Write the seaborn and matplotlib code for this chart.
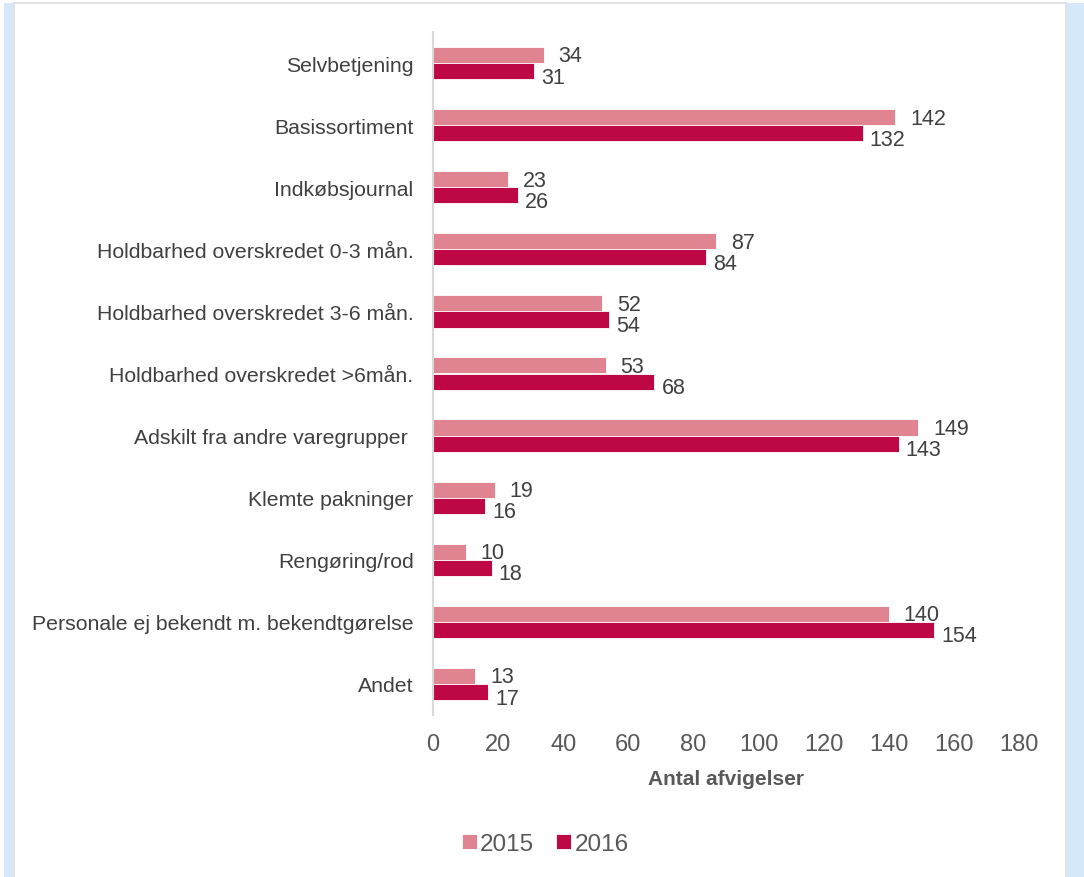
import matplotlib
matplotlib.use("Agg")
import matplotlib.pyplot as plt
import seaborn as sns
import pandas as pd
from matplotlib.patches import Rectangle
from matplotlib.transforms import offset_copy

categories = [
    "Selvbetjening",
    "Basissortiment",
    "Indkøbsjournal",
    "Holdbarhed overskredet 0-3 mån.",
    "Holdbarhed overskredet 3-6 mån.",
    "Holdbarhed overskredet >6mån.",
    "Adskilt fra andre varegrupper ",
    "Klemte pakninger",
    "Rengøring/rod",
    "Personale ej bekendt m. bekendtgørelse",
    "Andet",
]
values_2015 = [34, 142, 23, 87, 52, 53, 149, 19, 10, 140, 13]
values_2016 = [31, 132, 26, 84, 54, 68, 143, 16, 18, 154, 17]
years = ["2015", "2016"]
colors = ["#E08491", "#BE0846"]
x_ticks = [0, 20, 40, 60, 80, 100, 120, 140, 160, 180]

df = pd.DataFrame({
    "Kategori": categories * 2,
    "Antal": values_2015 + values_2016,
    "År": [years[0]] * len(categories) + [years[1]] * len(categories),
})

sns.set_theme(style="white")
plt.rcParams["font.family"] = ["Liberation Sans", "DejaVu Sans"]

fig = plt.figure(figsize=(10.84, 8.78), dpi=100)
ax = fig.add_axes([433 / 1084, 1 - 716 / 878, (1019 - 433) / 1084, (716 - 33) / 878])

sns.barplot(data=df, y="Kategori", x="Antal", hue="År", order=categories,
            hue_order=years, palette=colors, saturation=1, width=0.52, orient="h",
            ax=ax, legend=True, edgecolor="white", linewidth=0.6)

ax.set_xlim(0, 180)
ax.set_xticks(x_ticks)
ax.set_xticklabels([str(t) for t in x_ticks])
ax.tick_params(axis="x", length=0, pad=13, labelsize=17, labelcolor="#595959")
ax.tick_params(axis="y", length=0, pad=14, labelsize=15.3, labelcolor="#404040")
ax.set_ylabel("")
ax.set_xlabel("Antal afvigelser", fontsize=15, fontweight="bold", color="#595959", labelpad=10)
for s in ["top", "right", "bottom"]:
    ax.spines[s].set_visible(False)
ax.spines["left"].set_color("#D9D9D9")
ax.spines["left"].set_linewidth(1.5)

# data labels
for ci, cont in enumerate(ax.containers):
    dx = 15 if ci == 0 else 7
    dy = -1 if ci == 0 else -6
    tr = offset_copy(ax.transData, fig=fig, x=dx * 0.72, y=dy * 0.72, units="points")
    for bar in cont:
        w = bar.get_width()
        yc = bar.get_y() + bar.get_height() / 2
        ax.text(w, yc, f"{int(round(w))}", transform=tr, ha="left", va="center",
                fontsize=15.5, color="#404040")

leg = ax.get_legend()
handles, labels = ax.get_legend_handles_labels()
leg.remove()
fig.legend(handles, labels, loc="center", bbox_to_anchor=(0.503, 1 - 845 / 878), ncol=2,
           frameon=False, fontsize=17.5, handlelength=0.6, handleheight=0.6,
           handletextpad=0.15, columnspacing=0.9, labelcolor="#595959")

# frame decorations
fig.patches.append(Rectangle((4 / 1084, 0), 9 / 1084, 1 - 4 / 878, transform=fig.transFigure,
                             facecolor="#D6E9FB", edgecolor="none", zorder=0))
fig.patches.append(Rectangle((13 / 1084, 0), 2 / 1084, 1 - 4 / 878, transform=fig.transFigure,
                             facecolor="#E2E2E2", edgecolor="none", zorder=0))
fig.patches.append(Rectangle((1067 / 1084, 0), 17 / 1084, 1 - 4 / 878, transform=fig.transFigure,
                             facecolor="#D6E9FB", edgecolor="none", zorder=0))
fig.patches.append(Rectangle((1065 / 1084, 0), 2 / 1084, 1 - 4 / 878, transform=fig.transFigure,
                             facecolor="#E2E2E2", edgecolor="none", zorder=0))
fig.patches.append(Rectangle((13 / 1084, 1 - 5 / 878), 1054 / 1084, 2 / 878, transform=fig.transFigure,
                             facecolor="#E2E2E2", edgecolor="none", zorder=0))

fig.savefig("out.png", dpi=100)
